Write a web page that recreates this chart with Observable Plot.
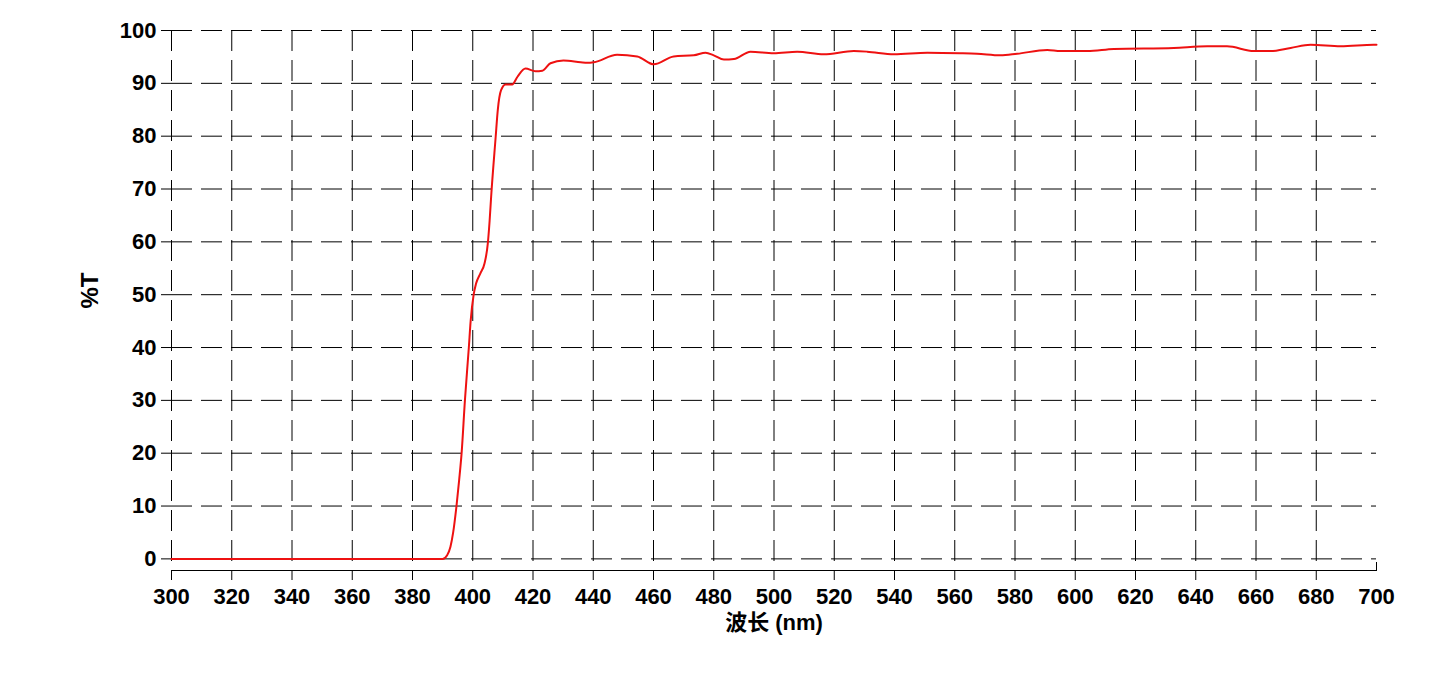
<!DOCTYPE html>
<html>
<head>
<meta charset="utf-8">
<script src="https://cdn.jsdelivr.net/npm/d3@7"></script>
<script src="https://cdn.jsdelivr.net/npm/@observablehq/plot@0.6"></script>
<style>
  html, body { margin: 0; padding: 0; background: white; }
</style>
</head>
<body>
<div id="chart"></div>
<script>
const wavelength = [300, 390, 391.5, 392.6, 393.5, 394.6, 395.5, 396.3, 397.4, 398.7, 399.3, 400.3, 401.1, 402.5, 403.9, 405.0, 405.6, 406.1, 407.6, 408.3, 409.4, 410.9, 413.1, 414.8, 417.5, 420.8, 423.1, 425.8, 430.1, 435.8, 438.0, 440.2, 447.9, 454.6, 460.1, 466.7, 473.4, 477.3, 480.0, 483.4, 486.7, 492.2, 499.9, 507.7, 516.5, 526.5, 530.9, 539.8, 550.9, 561.9, 567.4, 575.2, 580.7, 590.7, 595.1, 604.0, 612.8, 632.7, 643.8, 650.4, 659.3, 664.8, 671.5, 678.1, 688.1, 699.1, 700];
const transmittance = [0, 0, 0.7, 2.3, 5, 10, 15, 20, 30, 40, 45, 50, 52.1, 54, 55.9, 59.7, 64, 68.5, 79.8, 84.9, 88.7, 89.8, 89.8, 91.2, 92.8, 92.3, 92.4, 93.8, 94.3, 94.0, 93.9, 94.0, 95.4, 95.1, 93.6, 95.1, 95.3, 95.8, 95.3, 94.5, 94.6, 96.0, 95.7, 96.0, 95.5, 96.1, 96.0, 95.5, 95.8, 95.7, 95.6, 95.3, 95.6, 96.3, 96.1, 96.1, 96.5, 96.7, 97.0, 97.0, 96.1, 96.1, 96.7, 97.3, 97.0, 97.3, 97.3];

const xTicks = [300, 320, 340, 360, 380, 400, 420, 440, 460, 480, 500, 520, 540, 560, 580, 600, 620, 640, 660, 680];
const xLastTick = [700];
const yTicks = [0, 10, 20, 30, 40, 50, 60, 70, 80, 90, 100];
const xTitle = "波长 (nm)";
const yTitle = "%T";

const data = wavelength.map((w, i) => ({w, t: transmittance[i]}));

const font = "'Liberation Sans', Arial, 'Noto Sans CJK SC', sans-serif";

const chart = Plot.plot({
  width: 1443,
  height: 673,
  marginTop: 30,
  marginLeft: 171,
  marginRight: 67,
  marginBottom: 103,
  x: {domain: [300, 700]},
  y: {domain: [-2.2, 100]},
  style: {fontFamily: font, fontSize: "22px", background: "white", color: "black", overflow: "visible"},
  marks: [
    Plot.gridX(xTicks, {stroke: "black", strokeOpacity: 1, strokeWidth: 1, strokeDasharray: "21,9"}),
    Plot.gridY(yTicks, {stroke: "black", strokeOpacity: 1, strokeWidth: 1, strokeDasharray: "21,9"}),
    Plot.frame({anchor: "bottom", stroke: "black", strokeWidth: 1}),
    Plot.axisX(xTicks, {tickSize: 10, tickPadding: 8, fontWeight: "bold", fontSize: 22, label: null, stroke: "black"}),
    Plot.axisX(xLastTick, {tickSize: -8, tickPadding: 26, fontWeight: "bold", fontSize: 22, label: null, stroke: "black"}),
    Plot.axisY(yTicks, {tickSize: 10, tickPadding: 5, fontWeight: "bold", fontSize: 22, label: null, stroke: "black"}),
    Plot.line(data, {x: "w", y: "t", stroke: "#ee1111", strokeWidth: 2, curve: "monotone-x"}),
    Plot.text([yTitle], {frameAnchor: "left", dx: -81, dy: 8, rotate: -90, fontSize: 24, fontWeight: "bold", fill: "black"}),
    Plot.text([xTitle], {frameAnchor: "bottom", dy: 59, fontSize: 22, fontWeight: "bold", fill: "black"})
  ]
});

document.getElementById("chart").appendChild(chart);
</script>
</body>
</html>
